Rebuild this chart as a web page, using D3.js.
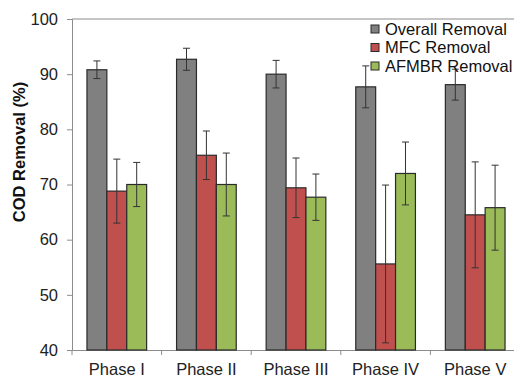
<!DOCTYPE html>
<html>
<head>
<meta charset="utf-8">
<script src="https://cdn.jsdelivr.net/npm/d3@7"></script>
<style>
  body { margin: 0; background: #fff; }
  svg { font-family: "Liberation Sans", Arial, sans-serif; }
</style>
</head>
<body>
<div id="chart"></div>
<script>
// data
var phases = ["Phase I", "Phase II", "Phase III", "Phase IV", "Phase V"];
var seriesNames = ["Overall Removal", "MFC Removal", "AFMBR Removal"];
var overall = [90.8, 92.7, 90.0, 87.7, 88.1];
var overallErr = [1.6, 2.0, 2.5, 3.8, 2.8];
var mfc = [68.8, 75.3, 69.4, 55.6, 64.5];
var mfcErr = [5.8, 4.4, 5.4, 14.3, 9.6];
var afmbr = [70.0, 70.0, 67.7, 72.0, 65.8];
var afmbrErr = [4.0, 5.7, 4.2, 5.7, 7.7];
var yTicks = [40, 50, 60, 70, 80, 90, 100];

var colors = ["#808080", "#c0504d", "#9bbb59"];
var fontSize = 16.5;

var margin = {top: 19, right: -6, bottom: 27, left: 72},
    W = 514, H = 377,
    width = W - margin.left - margin.right,
    height = H - margin.top - margin.bottom;

var svg = d3.select("#chart").append("svg")
    .attr("width", W)
    .attr("height", H)
  .append("g")
    .attr("transform", "translate(" + margin.left + "," + margin.top + ")");

// build rows
var allVals = [overall, mfc, afmbr];
var allErr = [overallErr, mfcErr, afmbrErr];
var rows = [];
phases.forEach(function(p, i) {
  seriesNames.forEach(function(s, j) {
    rows.push({phase: p, series: s, value: allVals[j][i], err: allErr[j][i], k: j});
  });
});

var x = d3.scaleBand().domain(phases).range([0, width]).paddingInner(0).paddingOuter(0);
var xs = d3.scaleBand().domain(seriesNames).range([x.bandwidth() * 0.167, x.bandwidth() * 0.833]);
var y = d3.scaleLinear().domain([40, 100]).range([height, 0]);

// top frame line
svg.append("line")
  .attr("x1", 0).attr("x2", width)
  .attr("y1", 0).attr("y2", 0)
  .attr("stroke", "#8c8c8c").attr("stroke-width", 1.2);

// y axis
var yAxis = svg.append("g")
  .call(d3.axisLeft(y).tickValues(yTicks).tickSize(5).tickPadding(9));
yAxis.select(".domain").attr("stroke", "#8c8c8c");
yAxis.selectAll(".tick line").attr("stroke", "#8c8c8c");
yAxis.selectAll("text").attr("font-size", fontSize).attr("fill", "#222")
  .attr("font-family", "Liberation Sans, Arial, sans-serif");

// x axis: ticks on category boundaries
var xAxis = svg.append("g")
  .attr("transform", "translate(0," + height + ")")
  .call(d3.axisBottom(x).tickSize(0).tickPadding(13));
xAxis.select(".domain").attr("stroke", "#8c8c8c");
xAxis.selectAll("text").attr("font-size", fontSize).attr("fill", "#222")
  .attr("font-family", "Liberation Sans, Arial, sans-serif");
svg.append("g").selectAll("line")
  .data(phases)
  .enter().append("line")
    .attr("x1", function(d) { return x(d); })
    .attr("x2", function(d) { return x(d); })
    .attr("y1", height).attr("y2", height + 5)
    .attr("stroke", "#8c8c8c");

// bars
svg.append("g").selectAll("rect")
  .data(rows)
  .enter().append("rect")
    .attr("x", function(d) { return x(d.phase) + xs(d.series); })
    .attr("y", function(d) { return y(d.value); })
    .attr("width", xs.bandwidth())
    .attr("height", function(d) { return y(40) - y(d.value); })
    .attr("fill", function(d) { return colors[d.k]; })
    .attr("stroke", "#2a2a2a")
    .attr("stroke-width", 1.2);

// error bars
var eb = svg.append("g").selectAll("g")
  .data(rows)
  .enter().append("g")
    .attr("stroke", "#333")
    .attr("stroke-width", 1);
function cx(d) { return x(d.phase) + xs(d.series) + xs.bandwidth() / 2; }
eb.append("line")
  .attr("x1", cx).attr("x2", cx)
  .attr("y1", function(d) { return y(d.value + d.err); })
  .attr("y2", function(d) { return y(d.value - d.err); });
eb.append("line")
  .attr("x1", function(d) { return cx(d) - 3.5; })
  .attr("x2", function(d) { return cx(d) + 3.5; })
  .attr("y1", function(d) { return y(d.value + d.err); })
  .attr("y2", function(d) { return y(d.value + d.err); });
eb.append("line")
  .attr("x1", function(d) { return cx(d) - 3.5; })
  .attr("x2", function(d) { return cx(d) + 3.5; })
  .attr("y1", function(d) { return y(d.value - d.err); })
  .attr("y2", function(d) { return y(d.value - d.err); });

// y label (sits a bit above the plot centre, as in the original)
svg.append("text")
  .attr("transform", "translate(-47,133) rotate(-90)")
  .attr("text-anchor", "middle")
  .attr("font-size", 16.5)
  .attr("font-weight", "bold")
  .attr("fill", "#111")
  .text("COD Removal (%)");

// legend
var legend = svg.append("g")
  .attr("transform", "translate(" + (371 - margin.left) + "," + (29 - margin.top) + ")");
var li = legend.selectAll("g")
  .data(seriesNames)
  .enter().append("g")
    .attr("transform", function(d, i) { return "translate(0," + (i * 18.5) + ")"; });
li.append("rect")
  .attr("x", 0).attr("y", -4)
  .attr("width", 8).attr("height", 8)
  .attr("fill", function(d, i) { return colors[i]; })
  .attr("stroke", "#2a2a2a").attr("stroke-width", 1);
li.append("text")
  .attr("x", 14).attr("y", 0)
  .attr("dy", "0.36em")
  .attr("font-size", fontSize)
  .attr("fill", "#111")
  .text(function(d) { return d; });
</script>
</body>
</html>
